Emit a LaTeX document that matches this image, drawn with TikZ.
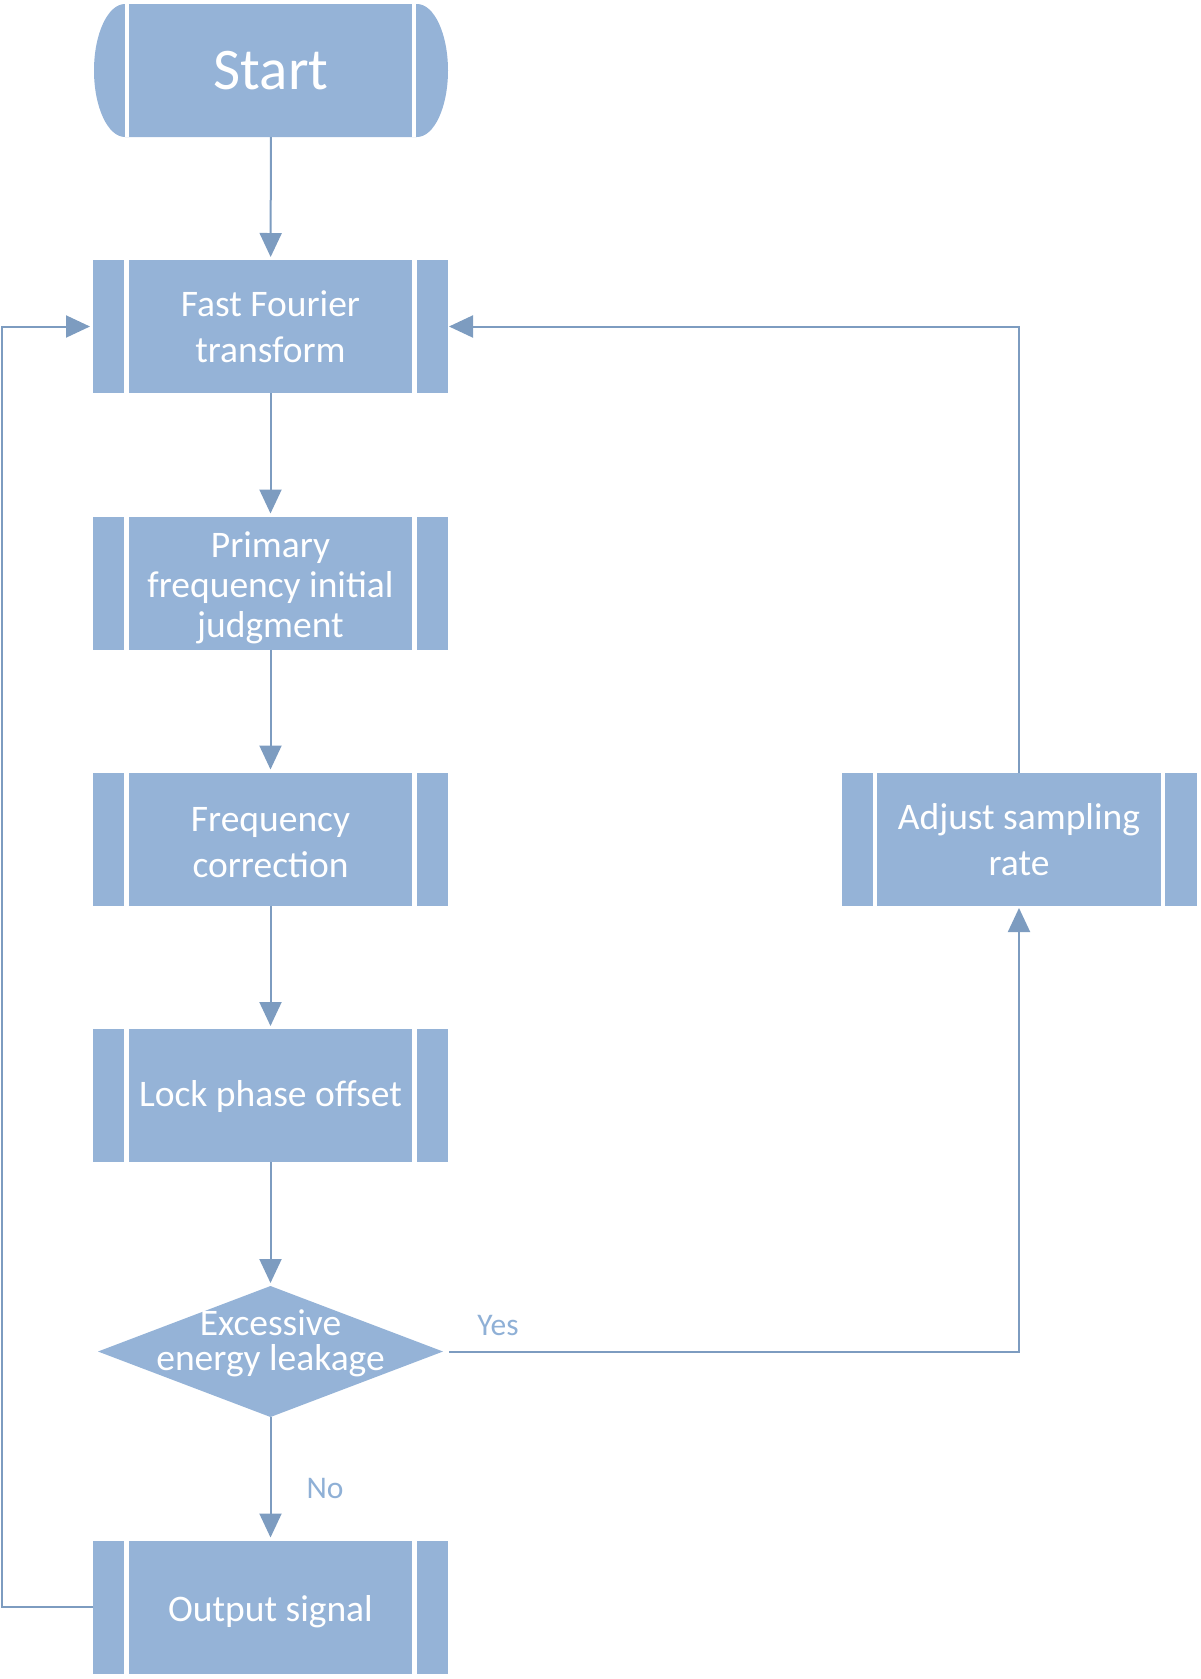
\documentclass[tikz,border=0pt]{standalone}
\usepackage{fontspec}
\setmainfont{Carlito}
\usetikzlibrary{arrows.meta,shapes.geometric,backgrounds}
\definecolor{boxfill}{RGB}{149,179,215}
\definecolor{linec}{RGB}{125,156,192}
\definecolor{labc}{RGB}{143,176,214}
\begin{document}
\begin{tikzpicture}[x=1pt,y=-1pt,
  proc/.style={rectangle,fill=boxfill,minimum width=355pt,minimum height=133pt,
    inner sep=0pt,outer sep=0pt,text=white,align=center,
    font=\fontsize{37.5}{46}\selectfont,
    path picture={
      \draw[white,line width=4.5pt] ([xshift=33.5pt]path picture bounding box.north west) -- ([xshift=33.5pt]path picture bounding box.south west);
      \draw[white,line width=4.5pt] ([xshift=-33.5pt]path picture bounding box.north east) -- ([xshift=-33.5pt]path picture bounding box.south east);}},
  starttext/.style={rectangle,minimum width=354pt,minimum height=133pt,inner sep=0pt,outer sep=0pt,
    text=white,font=\fontsize{59}{72}\selectfont},
  decision/.style={diamond,fill=boxfill,minimum width=345pt,minimum height=131pt,
    inner sep=0pt,outer sep=0pt,text=white,font=\fontsize{37.5}{40}\selectfont},
  conn/.style={draw=linec,line width=2pt,-{Triangle[length=24pt,width=22pt]}},
  lab/.style={text=labc,font=\fontsize{31.5}{36}\selectfont,inner sep=0pt}]
\useasboundingbox (0,0) rectangle (1200,1679);

\node[starttext] (start) at (271,70.5) {Start};
\begin{scope}[on background layer]
  \fill[boxfill] ([xshift=31pt]start.north west) -- ([xshift=-31pt]start.north east)
    arc[start angle=90,end angle=-90,x radius=31pt,y radius=66.5pt]
    -- ([xshift=31pt]start.south west)
    arc[start angle=270,end angle=90,x radius=31pt,y radius=66.5pt] -- cycle;
  \draw[white,line width=4.5pt] ([xshift=33pt]start.north west) -- ([xshift=33pt]start.south west);
  \draw[white,line width=4.5pt] ([xshift=-34pt]start.north east) -- ([xshift=-34pt]start.south east);
\end{scope}

\node[proc] (fft) at (270.5,326.5) {Fast Fourier\\transform};
\node[proc,font=\fontsize{37.5}{40}\selectfont] (prim) at (270.5,583) {\rule{0pt}{36pt}Primary\\frequency initial\\judgment};
\node[proc] (freq) at (270.5,839) {\rule{0pt}{32pt}Frequency\\correction};
\node[proc,text height=22pt,text depth=0pt] (lock) at (270.5,1095.5) {Lock phase offset};
\node[decision] (dec) at (270.5,1351.5)
  {\smash{\makebox[0pt]{\raisebox{16.5pt}{Excessive}}\makebox[0pt]{\raisebox{-18.5pt}{energy leakage}}}};
\node[proc,text height=29pt,text depth=0pt] (out) at (270.5,1607) {Output signal};
\node[proc] (adj) at (1019,839.5) {Adjust sampling\\rate};

\coordinate (lft) at (2,1607);

\draw[conn,shorten >=3pt] (start) -- (fft);
\draw[conn,shorten >=3pt] (fft) -- (prim);
\draw[conn,shorten >=3pt] (prim) -- (freq);
\draw[conn,shorten >=3pt] (freq) -- (lock);
\draw[conn,shorten >=3pt] (lock) -- (dec);
\draw[conn,shorten >=3pt] (dec) -- (out);
\draw[conn,shorten <=6pt,shorten >=2pt] (dec.east) -| (adj.south);
\draw[conn,shorten >=1pt] (adj.north) |- (fft.east);
\draw[conn,shorten >=3pt] (out.west) -- (lft) |- (fft.west);

\node[lab] (yes) at (498,1325) {Yes};
\node[lab] (no) at (325,1488) {No};
\end{tikzpicture}
\end{document}
